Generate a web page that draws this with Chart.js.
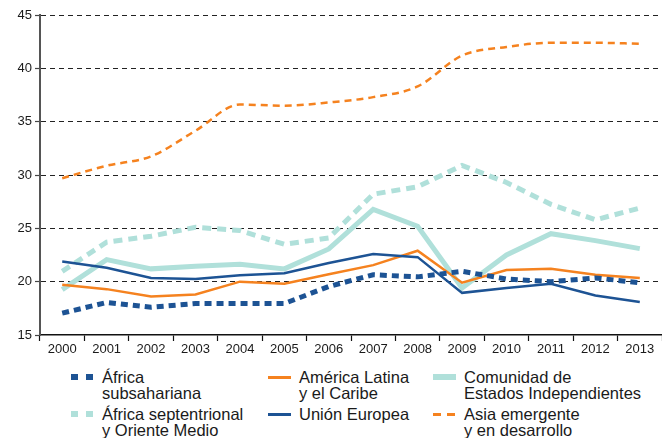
<!DOCTYPE html>
<html>
<head>
<meta charset="utf-8">
<script src="https://cdn.jsdelivr.net/npm/chart.js@4.4.1/dist/chart.umd.min.js"></script>
<style>
body { margin: 0; background: #fff; font-family: "Liberation Sans", Arial, sans-serif; }
#wrap { position: relative; width: 662px; height: 438px; overflow: hidden; }
#chartBox { position: absolute; left: 0; top: 0; width: 662px; height: 360px; }
.leg { position: absolute; font-size: 16.5px; line-height: 16px; color: #1a1a1a; white-space: nowrap; }
.mk { position: absolute; }
</style>
</head>
<body>
<div id="wrap">
  <div id="chartBox"><canvas id="chart1"></canvas></div>
  <div id="legend"></div>
</div>
<script>
let years = ['2000', '2001', '2002', '2003', '2004', '2005', '2006', '2007', '2008', '2009', '2010', '2011', '2012', '2013'];

let africaSub = [17.05, 18.05, 17.6, 17.95, 17.95, 17.95, 19.55, 20.65, 20.45, 20.97, 20.25, 20.0, 20.35, 19.9];
let africaSept = [20.97, 23.7, 24.26, 25.1, 24.8, 23.5, 24.1, 28.2, 28.9, 30.9, 29.3, 27.25, 25.8, 26.9];
let americaLatina = [19.7, 19.3, 18.6, 18.8, 20.0, 19.8, 20.7, 21.55, 22.9, 19.9, 21.1, 21.2, 20.65, 20.35];
let unionEuropea = [21.9, 21.3, 20.35, 20.25, 20.6, 20.8, 21.75, 22.6, 22.3, 18.95, 19.4, 19.8, 18.7, 18.1];
let comunidadEI = [19.25, 22.07, 21.2, 21.45, 21.63, 21.2, 23.07, 26.77, 25.2, 19.4, 22.5, 24.5, 23.85, 23.1];
let asiaEmergente = [29.7, 30.87, 31.75, 34.15, 36.6, 36.5, 36.8, 37.3, 38.3, 41.2, 42.0, 42.4, 42.4, 42.3];

let yTicks = [15, 20, 25, 30, 35, 40, 45];

let darkBlue = '#1d5394';
let orange = '#f5821f';
let teal = '#b0e0da';

// legend order is column by column, like the original
let series = [
    { label: 'África\nsubsahariana', data: africaSub, color: darkBlue, width: 5, dash: [7, 5], order: 1 },
    { label: 'África septentrional\ny Oriente Medio', data: africaSept, color: teal, width: 5, dash: [9, 6], order: 5 },
    { label: 'América Latina\ny el Caribe', data: americaLatina, color: orange, width: 2.5, dash: [], order: 3 },
    { label: 'Unión Europea', data: unionEuropea, color: darkBlue, width: 2.5, dash: [], order: 2 },
    { label: 'Comunidad de\nEstados Independientes', data: comunidadEI, color: teal, width: 5, dash: [], order: 4 },
    { label: 'Asia emergente\ny en desarrollo', data: asiaEmergente, color: orange, width: 2.5, dash: [7, 5], order: 6, smooth: true }
];

let datasets = series.map(s => ({
    label: s.label,
    data: s.data,
    borderColor: s.color,
    backgroundColor: s.color,
    borderWidth: s.width,
    borderDash: s.dash,
    borderCapStyle: 'butt',
    borderJoinStyle: 'miter',
    pointRadius: 0,
    fill: false,
    order: s.order,
    cubicInterpolationMode: s.smooth ? 'monotone' : 'default',
    tension: 0
}));

let tickFont = { family: '"Liberation Sans", Arial, sans-serif', size: 13 };

new Chart(document.getElementById('chart1'), {
    type: 'line',
    data: { labels: years, datasets: datasets },
    options: {
        responsive: true,
        maintainAspectRatio: false,
        animation: false,
        layout: { padding: { top: 15, right: 0, left: 0, bottom: 0 } },
        plugins: { legend: { display: false }, tooltip: { enabled: false } },
        scales: {
            x: {
                offset: true,
                grid: { display: true, offset: true, drawOnChartArea: false, drawTicks: true, tickLength: 6, tickColor: '#111', tickWidth: 1.2 },
                border: { display: true, color: '#111', width: 1.5 },
                ticks: { color: '#1a1a1a', font: tickFont, padding: 1, maxRotation: 0, autoSkip: false },
                afterFit: function (scale) { scale.height = 25; }
            },
            y: {
                min: 15,
                max: 45,
                afterBuildTicks: function (scale) { scale.ticks = yTicks.map(v => ({ value: v })); },
                grid: {
                    color: ctx => (ctx.tick && ctx.tick.value === 15) ? 'rgba(0,0,0,0)' : '#222',
                    lineWidth: 1,
                    drawTicks: true,
                    tickLength: 5,
                    tickColor: '#444',
                    tickWidth: 1.2,
                    tickBorderDash: []
                },
                border: { display: true, color: '#555', width: 2, dash: [5, 4] },
                ticks: { color: '#1a1a1a', font: tickFont, padding: 3 },
                afterFit: function (scale) { scale.width = 40; }
            }
        }
    }
});

// legend drawn as html below the chart
let legend = document.getElementById('legend');
let colX = [71, 268, 433];
let rowY = [369, 406];

series.forEach((s, i) => {
    let col = Math.floor(i / 2);
    let row = i % 2;
    let x = colX[col];
    let y = rowY[row];
    let midY = y + 8;

    if (s.dash.length > 0) {
        let h = s.width >= 4 ? 6 : 3;
        let w = s.width >= 4 ? 7 : 8;
        [0, 1].forEach(k => {
            let d = document.createElement('div');
            d.className = 'mk';
            d.style.left = (x + k * (22 - w)) + 'px';
            d.style.top = (midY - h / 2) + 'px';
            d.style.width = w + 'px';
            d.style.height = h + 'px';
            d.style.background = s.color;
            legend.appendChild(d);
        });
    } else {
        let h = s.width >= 4 ? 6 : 3;
        let d = document.createElement('div');
        d.className = 'mk';
        d.style.left = x + 'px';
        d.style.top = (midY - h / 2) + 'px';
        d.style.width = '23px';
        d.style.height = h + 'px';
        d.style.background = s.color;
        legend.appendChild(d);
    }

    let t = document.createElement('div');
    t.className = 'leg';
    t.style.left = (x + 31) + 'px';
    t.style.top = y + 'px';
    t.innerHTML = s.label.split('\n').join('<br>');
    legend.appendChild(t);
});
</script>
</body>
</html>
